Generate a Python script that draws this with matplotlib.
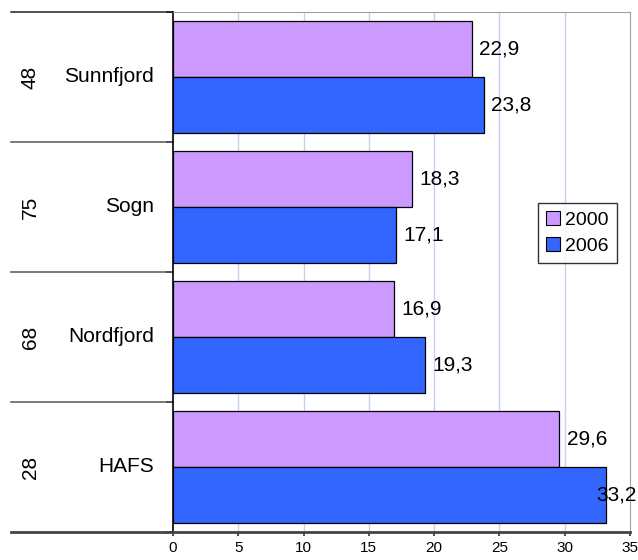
import matplotlib
matplotlib.use("Agg")
import matplotlib.pyplot as plt
from matplotlib.lines import Line2D
import matplotlib.transforms as mtrans
import numpy as np

regions = ["HAFS", "Nordfjord", "Sogn", "Sunnfjord"]
counts = ["28", "68", "75", "48"]
vals_2000 = [29.6, 16.9, 18.3, 22.9]
vals_2006 = [33.2, 19.3, 17.1, 23.8]
series_names = ["2000", "2006"]
xticks = [0, 5, 10, 15, 20, 25, 30, 35]

c2000 = "#CC99FF"
c2006 = "#3366FF"
FONT = "Liberation Sans"

W, H = 638, 560
fig = plt.figure(figsize=(W / 100, H / 100), dpi=100)
L, R, T, B = 173, 630, 12, 532
ax = fig.add_axes([L / W, 1 - B / H, (R - L) / W, (B - T) / H])

y = np.arange(len(regions))
h = 0.432
off = 0.216
b1 = ax.barh(y + off, vals_2000, height=h, color=c2000, edgecolor="black", linewidth=0.9,
             label=series_names[0], zorder=3)
b2 = ax.barh(y - off, vals_2006, height=h, color=c2006, edgecolor="black", linewidth=0.9,
             label=series_names[1], zorder=3)

ax.set_xlim(0, 35)
ax.set_ylim(-0.5, len(regions) - 0.5)

fig.canvas.draw()
renderer = fig.canvas.get_renderer()
for bars, vals in ((b1, vals_2000), (b2, vals_2006)):
    for rect, v in zip(bars, vals):
        yc = rect.get_y() + rect.get_height() / 2
        lbl = f"{v:.1f}".replace(".", ",")
        t = ax.annotate(lbl, xy=(v, yc), xytext=(5.2, 0), textcoords="offset points",
                        va="center", ha="left", fontsize=15, family=FONT, zorder=4,
                        annotation_clip=False)
        bb = t.get_window_extent(renderer)
        if bb.x1 > W - 1:
            t.remove()
            tr = mtrans.blended_transform_factory(fig.transFigure, ax.transData)
            ax.text((W - 1.5) / W, yc, lbl, transform=tr, va="center", ha="right",
                    fontsize=15, family=FONT, zorder=4)

ax.set_xticks(xticks)
ax.set_xticklabels([str(t) for t in xticks], fontsize=11, family=FONT)
ax.tick_params(axis="x", direction="out", length=3, width=1.2, pad=3.5, color="#333333")
ax.set_yticks(np.arange(len(regions) + 1) - 0.5)
ax.set_yticklabels([])
ax.tick_params(axis="y", direction="out", length=5, width=1.3, color="#333333")
for xv in xticks[1:-1]:
    ax.axvline(xv, color="#CCCCF4", linewidth=1, zorder=1)

ax.spines["top"].set_color("#A0A0A0")
ax.spines["right"].set_color("#A0A0A0")
ax.spines["left"].set_color("black")
ax.spines["left"].set_linewidth(1.2)
ax.spines["bottom"].set_color("#444444")
ax.spines["bottom"].set_linewidth(2)

# left category region
x_left = (11 - L) / (R - L)
for i in range(len(regions) + 1):
    yy = i / len(regions)
    if i == 0:
        color, lw = "#444444", 2
    elif i == len(regions):
        color, lw = "#222222", 1.1
    else:
        color, lw = "#555555", 1.1
    ax.add_line(Line2D([x_left, 0], [yy, yy], transform=ax.transAxes, color=color,
                       linewidth=lw, clip_on=False))

for i, (name, cnt) in enumerate(zip(regions, counts)):
    ax.text((154 - L) / (R - L), i, name, transform=ax.get_yaxis_transform(), ha="right",
            va="center", fontsize=15, family=FONT)
    ax.text((30 - L) / (R - L), i, cnt, transform=ax.get_yaxis_transform(), ha="center",
            va="center", rotation=90, fontsize=15, family=FONT)

leg = ax.legend(loc="center", bbox_to_anchor=((577.5 - L) / (R - L), (B - 233) / (B - T)),
                prop={"family": FONT, "size": 14}, frameon=True, fancybox=False,
                edgecolor="black", handlelength=0.7, handleheight=0.7, handletextpad=0.3,
                borderpad=0.4, labelspacing=0.45, borderaxespad=0)
leg.get_frame().set_linewidth(1)
for p in leg.get_patches():
    p.set_edgecolor("black")
    p.set_linewidth(0.8)

fig.savefig("out.png", dpi=100)
